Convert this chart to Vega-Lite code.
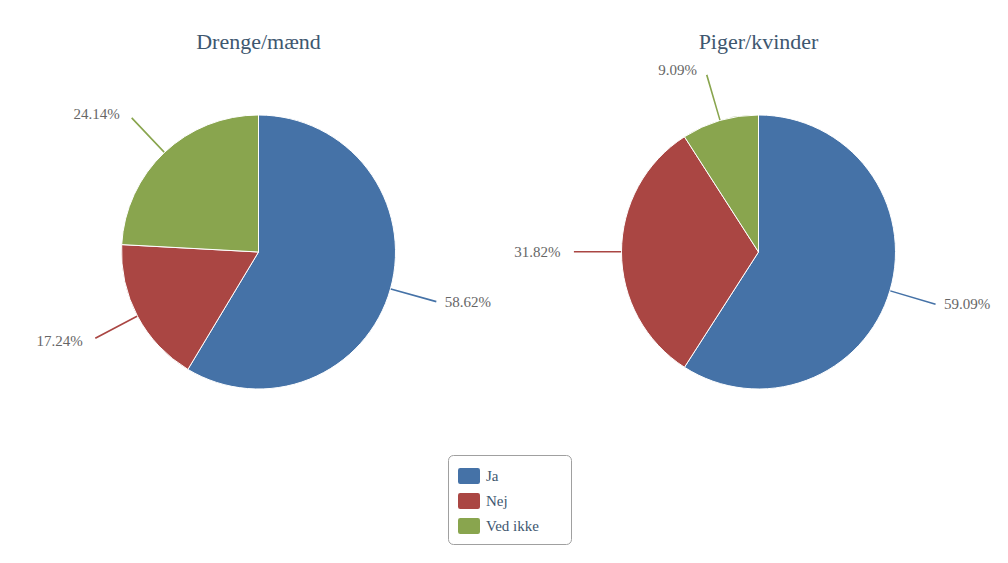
{
  "$schema": "https://vega.github.io/schema/vega-lite/v6.json",
  "padding": {"left": 9, "top": 31, "right": 0, "bottom": 0},
  "background": "white",
  "spacing": 1,
  "data": {"values": [
    {"gruppe": "Drenge/mænd", "svar": "Ja", "andel": 0.5862, "order": 1},
    {"gruppe": "Drenge/mænd", "svar": "Nej", "andel": 0.1724, "order": 2},
    {"gruppe": "Drenge/mænd", "svar": "Ved ikke", "andel": 0.2414, "order": 3},
    {"gruppe": "Piger/kvinder", "svar": "Ja", "andel": 0.5909, "order": 1},
    {"gruppe": "Piger/kvinder", "svar": "Nej", "andel": 0.3182, "order": 2},
    {"gruppe": "Piger/kvinder", "svar": "Ved ikke", "andel": 0.0909, "order": 3}
  ]},
  "transform": [
    {"stack": "andel", "groupby": ["gruppe"], "sort": [{"field": "order", "order": "ascending"}], "as": ["v0", "v1"]},
    {"calculate": "(datum.v0 + datum.v1) / 2", "as": "mid"},
    {"calculate": "datum.mid + 0.0004", "as": "mid2"}
  ],
  "facet": {
    "column": {
      "field": "gruppe", "type": "nominal", "sort": ["Drenge/mænd", "Piger/kvinder"],
      "header": {"title": null, "labelFont": "Liberation Serif", "labelFontSize": 22, "labelColor": "#3E576F", "labelPadding": 8}
    }
  },
  "spec": {
    "width": 499, "height": 346,
    "layer": [
      {
        "mark": {"type": "arc", "radius": 137, "stroke": "#ffffff", "strokeWidth": 1},
        "encoding": {
          "theta": {"field": "v0", "type": "quantitative", "scale": {"domain": [0, 1]}, "stack": null},
          "theta2": {"field": "v1"},
          "color": {
            "field": "svar", "type": "nominal",
            "scale": {"domain": ["Ja", "Nej", "Ved ikke"], "range": ["#4572A7", "#AA4643", "#89A54E"]},
            "legend": {
              "orient": "none", "legendX": 439, "legendY": 376, "title": null, "direction": "vertical",
              "symbolType": "M-0.8,-0.727L0.8,-0.727Q1,-0.727,1,-0.527L1,0.527Q1,0.727,0.8,0.727L-0.8,0.727Q-1,0.727,-1,0.527L-1,-0.527Q-1,-0.727,-0.8,-0.727Z",
              "symbolSize": 484, "symbolStrokeWidth": 0,
              "labelFont": "Liberation Serif", "labelFontSize": 15, "labelColor": "#3E576F", "labelOffset": 6,
              "labelExpr": "datum.label + '\u2800\u2800'",
              "padding": 10, "rowPadding": 6,
              "strokeColor": "#A0A0A0", "cornerRadius": 5, "fillColor": "#ffffff",
              "encode": {"legend": {"update": {"strokeWidth": {"value": 2}}}}
            }
          }
        }
      },
      {
        "mark": {"type": "arc", "radius": 184, "radius2": 138, "fill": "transparent", "strokeWidth": 1.2},
        "encoding": {
          "theta": {"field": "mid", "type": "quantitative", "scale": {"domain": [0, 1]}, "stack": null},
          "theta2": {"field": "mid2"},
          "stroke": {"field": "svar", "type": "nominal", "scale": {"domain": ["Ja", "Nej", "Ved ikke"], "range": ["#4572A7", "#AA4643", "#89A54E"]}, "legend": null}
        }
      },
      {
        "transform": [{"filter": "datum.svar === 'Ja'"}],
        "mark": {"type": "text", "radius": 186, "align": "left", "baseline": "middle", "dx": 7, "font": "Liberation Serif", "fontSize": 15, "color": "#666666"},
        "encoding": {
          "theta": {"field": "mid", "type": "quantitative", "scale": {"domain": [0, 1]}, "stack": null},
          "text": {"field": "andel", "type": "quantitative", "format": ".2%"}
        }
      },
      {
        "transform": [{"filter": "datum.svar !== 'Ja'"}],
        "mark": {"type": "text", "radius": 190, "align": "right", "baseline": "middle", "dx": -8, "font": "Liberation Serif", "fontSize": 15, "color": "#666666"},
        "encoding": {
          "theta": {"field": "mid", "type": "quantitative", "scale": {"domain": [0, 1]}, "stack": null},
          "text": {"field": "andel", "type": "quantitative", "format": ".2%"}
        }
      }
    ]
  },
  "config": {
    "view": {"stroke": null}
  }
}
